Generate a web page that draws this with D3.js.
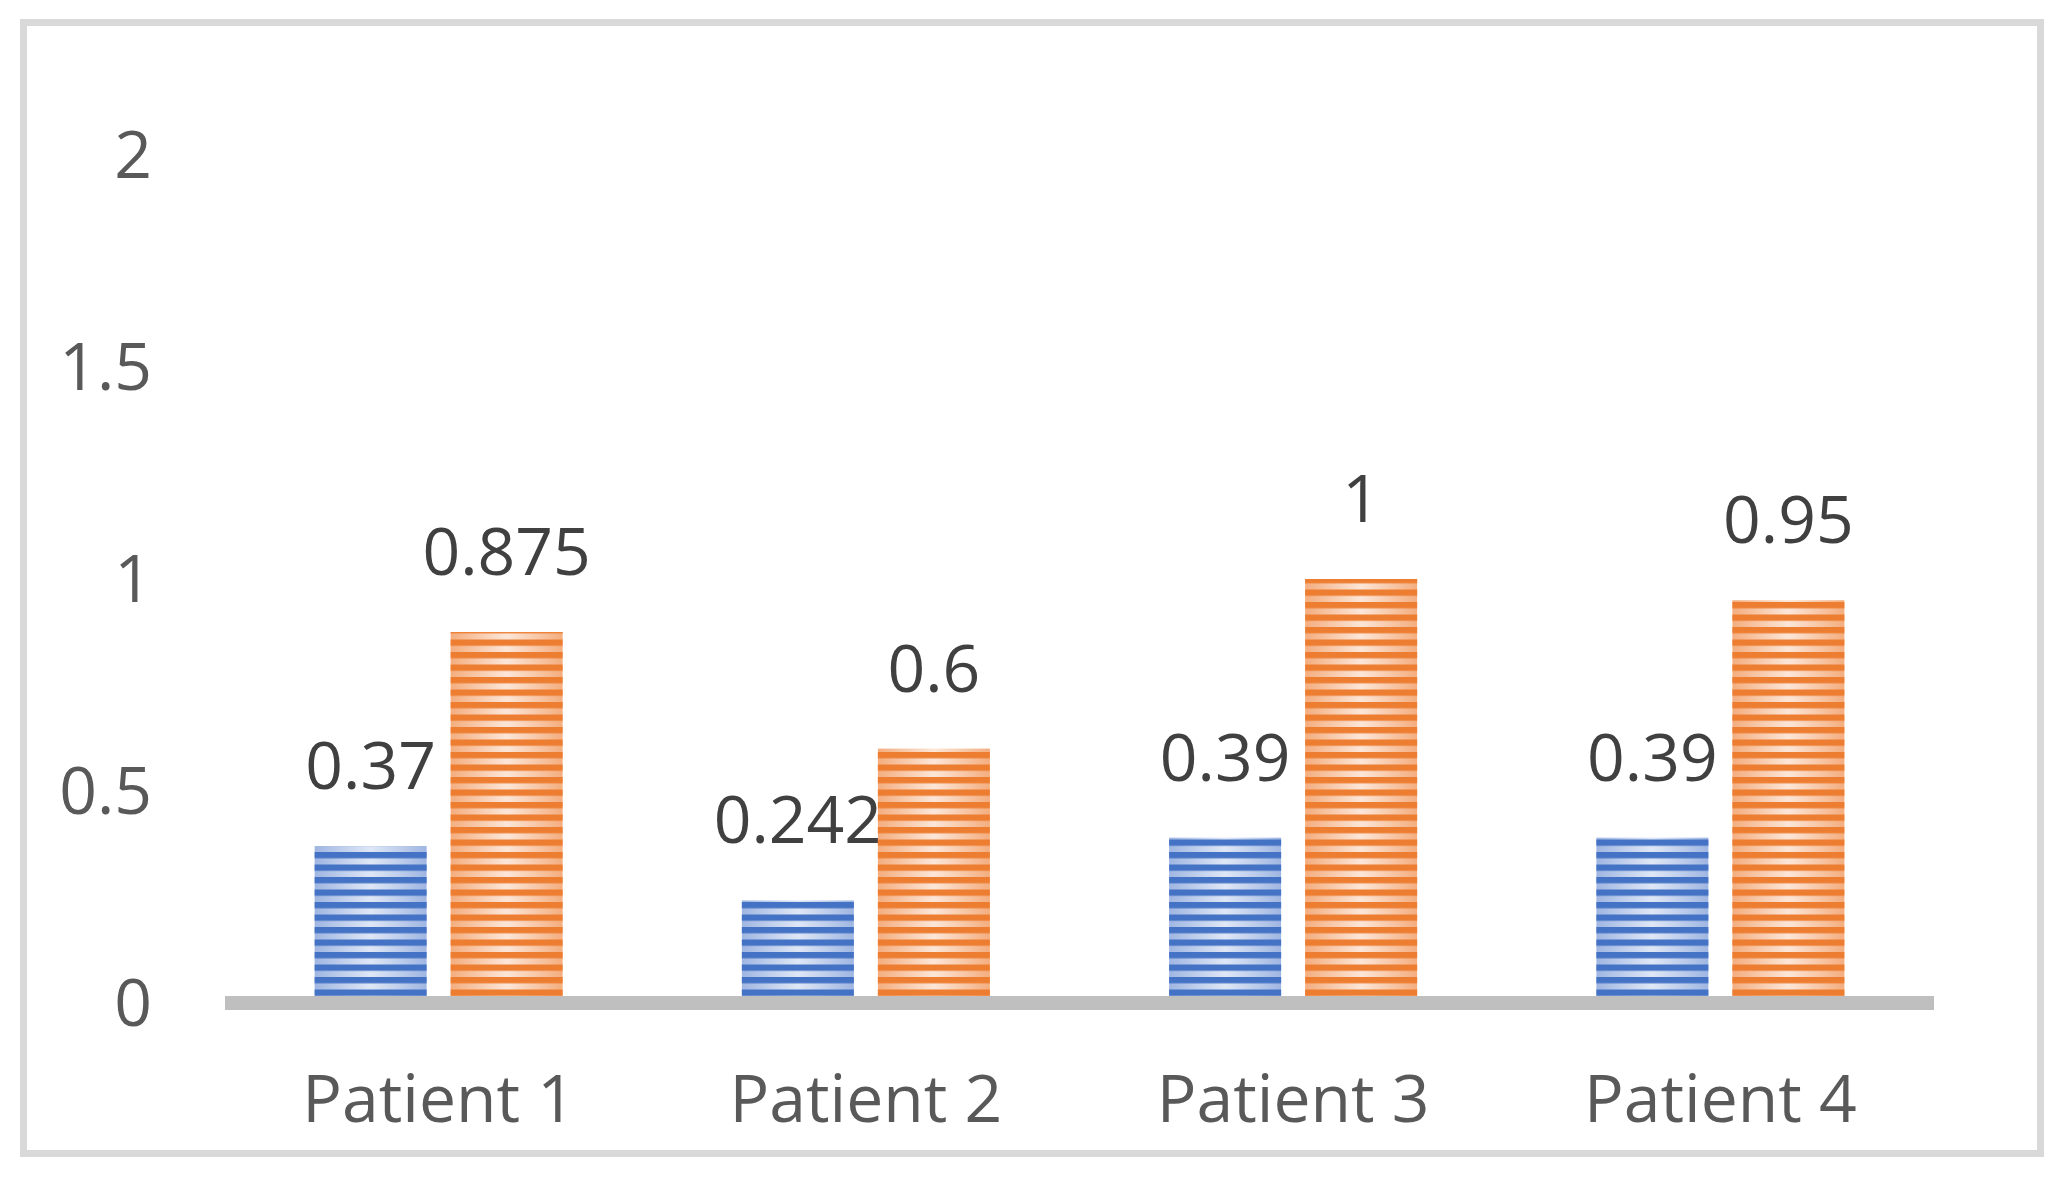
<!DOCTYPE html>
<html>
<head>
<meta charset="utf-8">
<script src="https://cdn.jsdelivr.net/npm/d3@7"></script>
<style>
  html, body { margin: 0; padding: 0; background: #ffffff; }
  svg { display: block; }
</style>
</head>
<body>
<svg id="chart" width="2070" height="1184"></svg>
<script>
// ---- data ----
const categories = ["Patient 1", "Patient 2", "Patient 3", "Patient 4"];
const seriesNames = ["Series 1", "Series 2"];
const series1 = [0.37, 0.242, 0.39, 0.39];
const series2 = [0.875, 0.6, 1, 0.95];
const labels1 = ["0.37", "0.242", "0.39", "0.39"];
const labels2 = ["0.875", "0.6", "1", "0.95"];
const yTicks = [0, 0.5, 1, 1.5, 2];
const yTickLabels = ["0", "0.5", "1", "1.5", "2"];

const W = 2070, H = 1184;
const svg = d3.select("#chart");
const font = "'Open Sans', 'Segoe UI', sans-serif";

// frame
svg.append("rect").attr("x", 0).attr("y", 0).attr("width", W).attr("height", H).attr("fill", "#ffffff");
svg.append("rect")
  .attr("x", 23.5).attr("y", 22.5).attr("width", 2017).attr("height", 1131)
  .attr("fill", "#ffffff").attr("stroke", "#d9d9d9").attr("stroke-width", 7);

// scales
const plotLeft = 225, plotRight = 1934;
const y = d3.scaleLinear().domain([0, 2]).range([1003, 155]);
const x0 = d3.scaleBand().domain(categories).range([plotLeft, plotRight])
  .paddingInner(0.4195).paddingOuter(0.4195 / 2);
const x1 = d3.scaleBand().domain(seriesNames).range([0, x0.bandwidth()])
  .paddingInner(0.1765).paddingOuter(0);

// defs: gradients + stripe patterns
const defs = svg.append("defs");
const palettes = [
  { id: "s1", dark: "#4472c4", edge: "#9fb6e2", center: "#dfe7f6" },
  { id: "s2", dark: "#ed7d31", edge: "#f4ad7e", center: "#fce6d8" }
];
palettes.forEach(p => {
  const g = defs.append("linearGradient").attr("id", "grad-" + p.id)
    .attr("x1", "0%").attr("x2", "100%").attr("y1", "0%").attr("y2", "0%");
  g.append("stop").attr("offset", "0%").attr("stop-color", p.edge);
  g.append("stop").attr("offset", "50%").attr("stop-color", p.center);
  g.append("stop").attr("offset", "100%").attr("stop-color", p.edge);
  const pat = defs.append("pattern").attr("id", "pat-" + p.id)
    .attr("patternUnits", "userSpaceOnUse")
    .attr("x", 0).attr("y", y(0) - 1)
    .attr("width", 40).attr("height", 12.5);
  pat.append("rect").attr("x", 0).attr("y", 0).attr("width", 40).attr("height", 6.3)
    .attr("fill", p.dark);
});

const data = categories.map((c, i) => ({
  cat: c,
  vals: [
    { s: seriesNames[0], v: series1[i], lab: labels1[i], p: palettes[0] },
    { s: seriesNames[1], v: series2[i], lab: labels2[i], p: palettes[1] }
  ]
}));

const groups = svg.append("g").selectAll("g").data(data).join("g")
  .attr("transform", d => `translate(${x0(d.cat)},0)`);

const bars = groups.selectAll("g.bar").data(d => d.vals).join("g").attr("class", "bar");
bars.append("rect")
  .attr("x", d => x1(d.s)).attr("width", x1.bandwidth())
  .attr("y", d => y(d.v)).attr("height", d => y(0) - y(d.v))
  .attr("fill", d => `url(#grad-${d.p.id})`);
bars.append("rect")
  .attr("x", d => x1(d.s)).attr("width", x1.bandwidth())
  .attr("y", d => y(d.v)).attr("height", d => y(0) - y(d.v))
  .attr("fill", d => `url(#pat-${d.p.id})`);

// data labels
bars.append("text")
  .attr("x", d => x1(d.s) + x1.bandwidth() / 2)
  .attr("y", d => y(d.v) - 57)
  .attr("text-anchor", "middle")
  .attr("font-family", font).attr("font-size", 66)
  .attr("fill", "#404040")
  .text(d => d.lab);

// x axis line
svg.append("line")
  .attr("x1", plotLeft).attr("x2", plotRight)
  .attr("y1", y(0)).attr("y2", y(0))
  .attr("stroke", "#bfbfbf").attr("stroke-width", 14);

// x category labels
svg.append("g").selectAll("text").data(categories).join("text")
  .attr("x", d => x0(d) + x0.bandwidth() / 2)
  .attr("y", 1122)
  .attr("text-anchor", "middle")
  .attr("font-family", font).attr("font-size", 66)
  .attr("fill", "#595959")
  .text(d => d);

// y tick labels
svg.append("g").selectAll("text").data(yTicks).join("text")
  .attr("x", 152)
  .attr("y", d => y(d))
  .attr("dy", "0.355em")
  .attr("text-anchor", "end")
  .attr("font-family", font).attr("font-size", 66)
  .attr("fill", "#595959")
  .text((d, i) => yTickLabels[i]);
</script>
</body>
</html>
